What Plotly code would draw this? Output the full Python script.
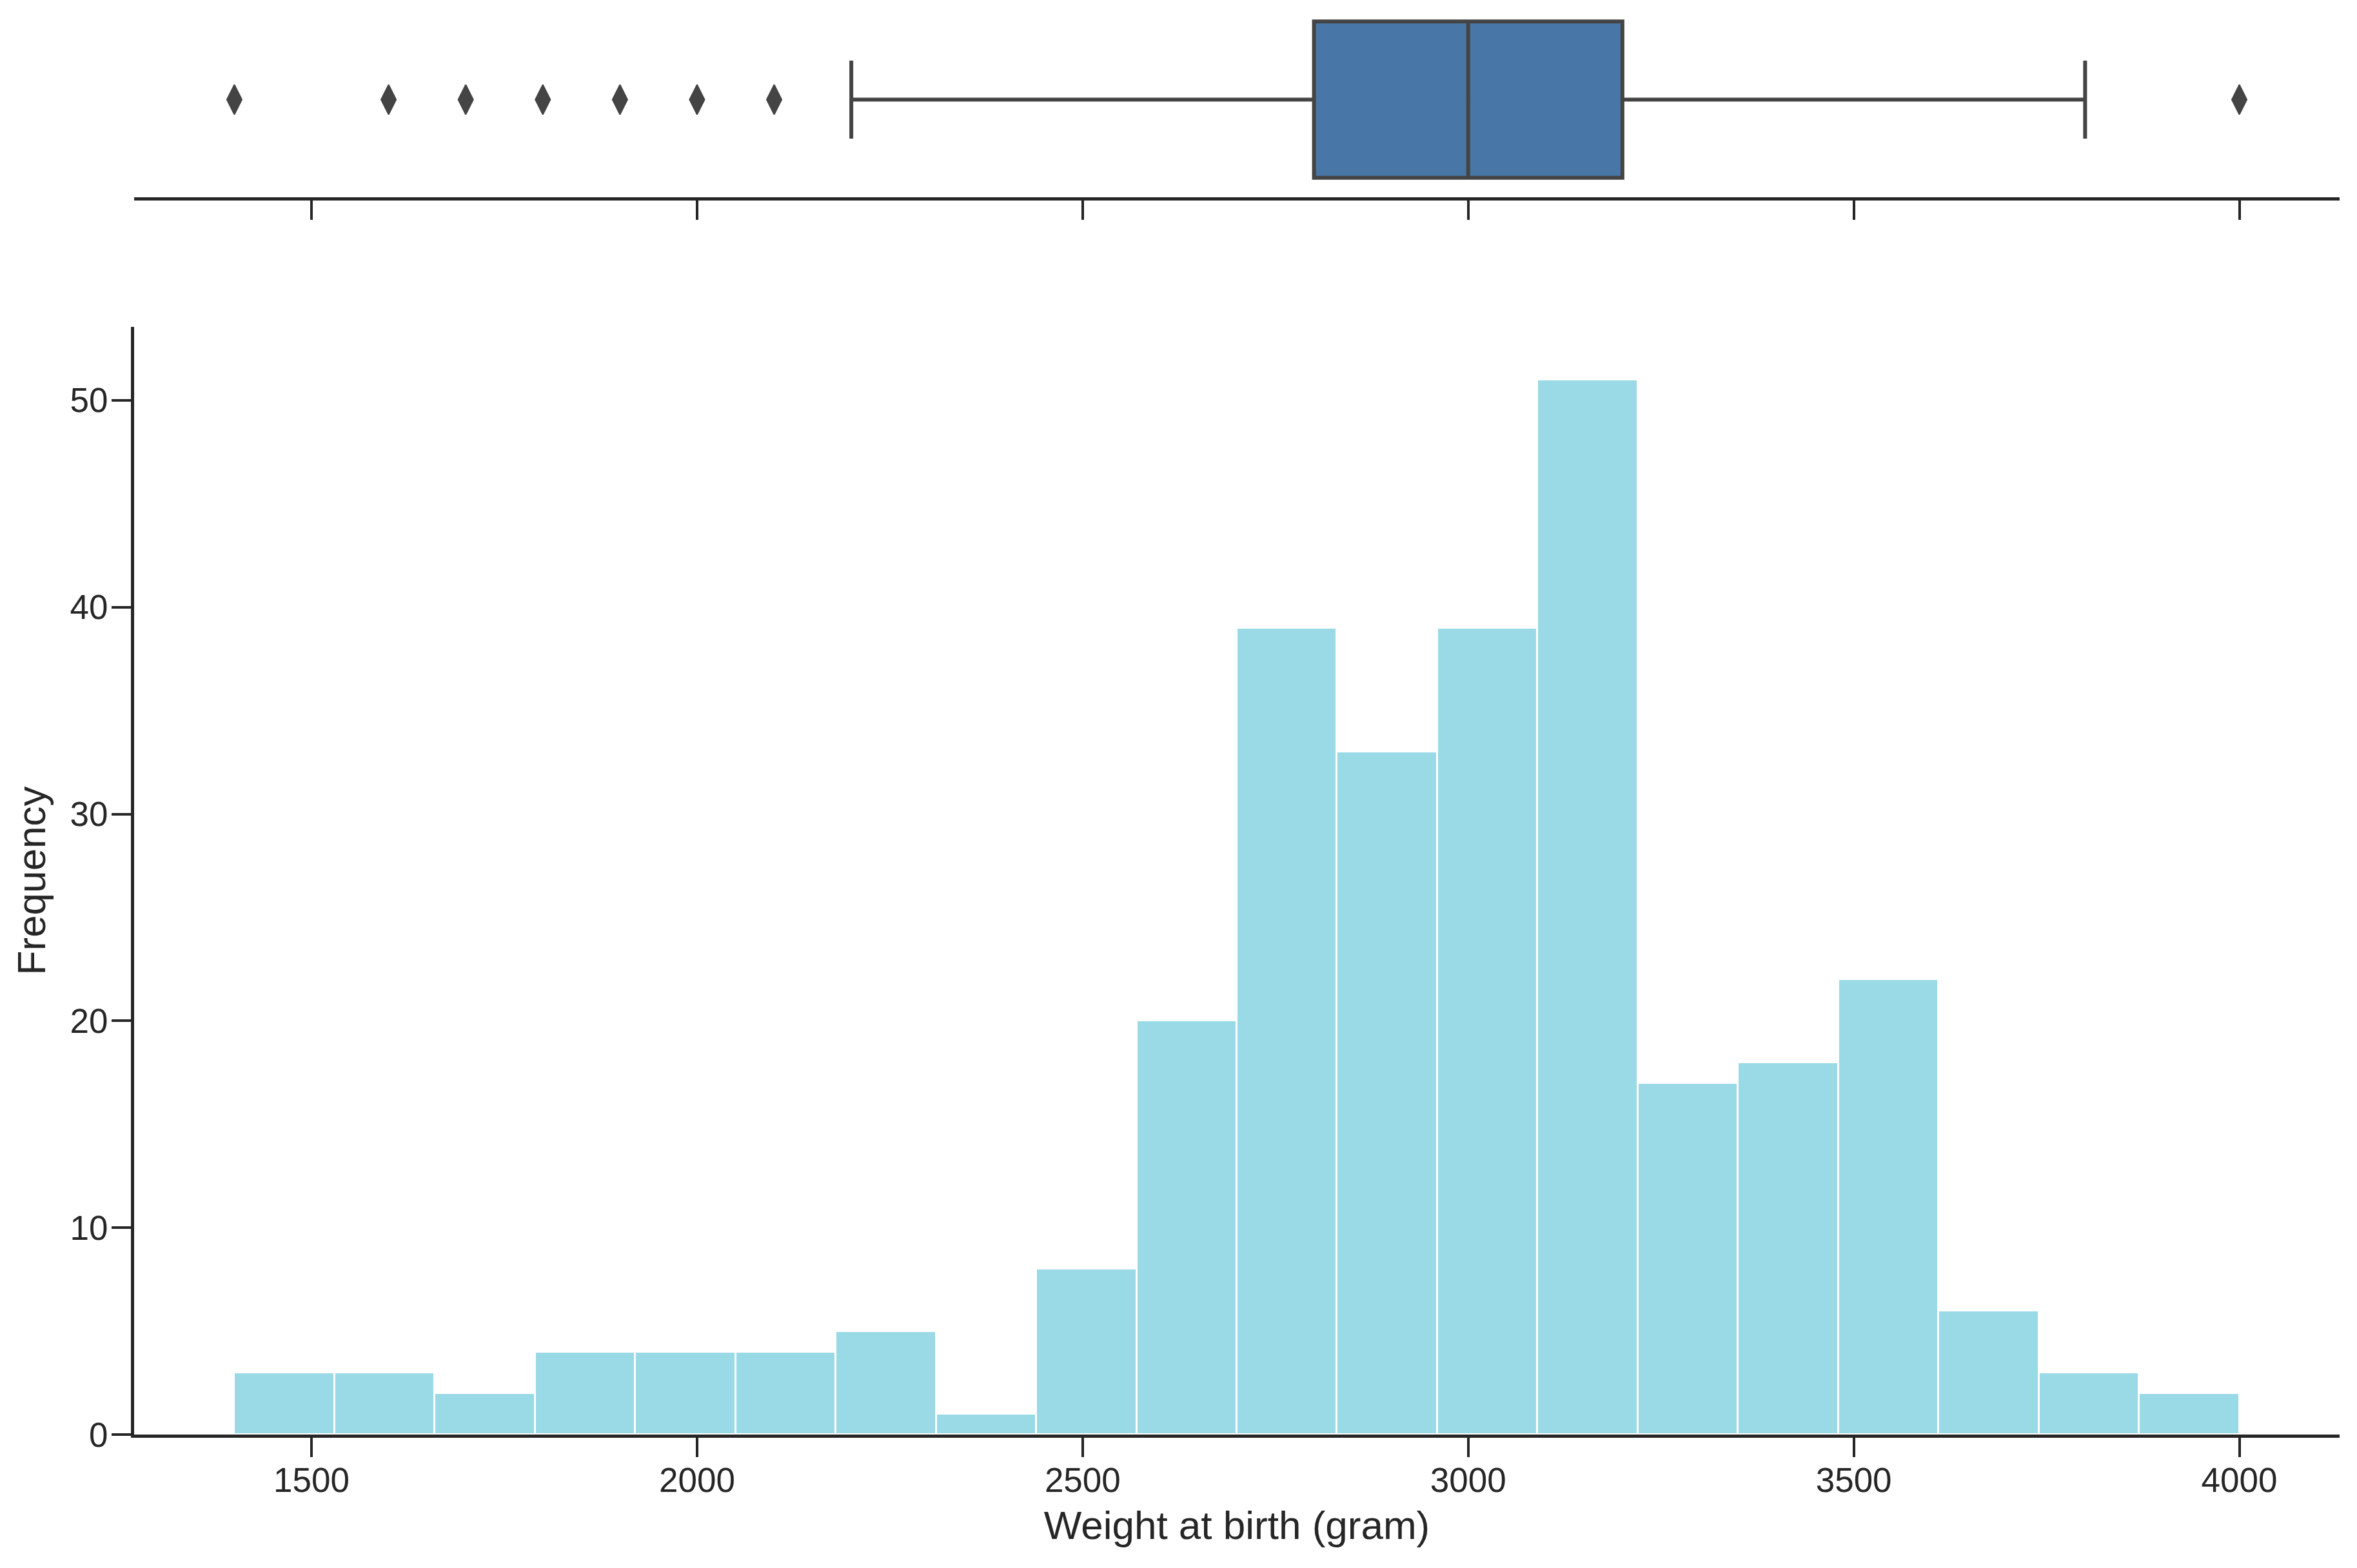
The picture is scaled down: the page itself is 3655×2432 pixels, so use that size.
import plotly.graph_objects as go

# ---- data ----
bin_left = [1400, 1530, 1660, 1790, 1920, 2050, 2180, 2310, 2440, 2570,
            2700, 2830, 2960, 3090, 3220, 3350, 3480, 3610, 3740, 3870]
bin_width = 130
counts = [3, 3, 2, 4, 4, 4, 5, 1, 8, 20, 39, 33, 39, 51, 17, 18, 22, 6, 3, 2]

box_q1 = 2800
box_median = 3000
box_q3 = 3200
box_lowerfence = 2200
box_upperfence = 3800
outliers = [1400, 1600, 1700, 1800, 1900, 2000, 2100, 4000]

x_ticks = [1500, 2000, 2500, 3000, 3500, 4000]
y_ticks = [0, 10, 20, 30, 40, 50]

W, H = 3655, 2432
OFF = 8  # page body margin offset
AX = "#262626"
FONT = "Liberation Sans, Arial, sans-serif"

fig = go.Figure()

fig.add_trace(go.Bar(
    x=[b + bin_width / 2 for b in bin_left], y=counts, width=bin_width,
    marker=dict(color="#9ad9e6", line=dict(color="white", width=3)),
    xaxis="x", yaxis="y", showlegend=False, hoverinfo="x+y"))

fig.add_trace(go.Box(
    q1=[box_q1], median=[box_median], q3=[box_q3],
    lowerfence=[box_lowerfence], upperfence=[box_upperfence],
    y=[0], orientation="h", width=0.8, whiskerwidth=0.5,
    fillcolor="#4876a7", line=dict(color="#444444", width=6),
    boxpoints=False, xaxis="x2", yaxis="y2", showlegend=False))

fig.add_trace(go.Scatter(
    x=outliers, y=[0] * len(outliers), mode="markers",
    marker=dict(symbol="diamond-tall", size=33, color="#444444",
                line=dict(width=2, color="#444444")),
    xaxis="x2", yaxis="y2", showlegend=False))

xr = [1270, 4130]
xdom = [(208 - OFF) / W, (3628 - OFF) / W]
common_x = dict(range=xr, tickvals=x_ticks, showline=True, linecolor=AX,
                linewidth=5, ticks="outside", ticklen=30, tickwidth=4,
                tickcolor=AX, showgrid=False, zeroline=False,
                automargin=False, domain=xdom)

fig.update_layout(
    template="none",
    width=W, height=H, paper_bgcolor="white", plot_bgcolor="white",
    margin=dict(l=0, r=0, t=0, b=0, pad=0),
    font=dict(family=FONT, color=AX, size=53),
    bargap=0,
    xaxis=dict(**common_x, anchor="y",
               ticktext=[str(v) for v in x_ticks],
               tickfont=dict(size=53, color=AX), ticklabelstandoff=-10,
               title=dict(text="Weight at birth (gram)",
                          font=dict(size=62, color=AX), standoff=21)),
    yaxis=dict(domain=[1 - (2225 - OFF) / H, 1 - (507 - OFF) / H],
               range=[0, 53.55],
               tickvals=y_ticks, showline=True, linecolor=AX, linewidth=5,
               ticks="outside", ticklen=30, tickwidth=4, tickcolor=AX,
               showgrid=False, zeroline=False, automargin=False,
               tickfont=dict(size=53, color=AX), ticklabelstandoff=-5,
               title=dict(text="Frequency", font=dict(size=62, color=AX),
                          standoff=19)),
    xaxis2=dict(**common_x, anchor="y2", showticklabels=False),
    yaxis2=dict(domain=[1 - (306 - OFF) / H, 1],
                range=[0.5, -0.4835],
                visible=False, showgrid=False, zeroline=False,
                automargin=False),
)

fig.write_html("out.html")
